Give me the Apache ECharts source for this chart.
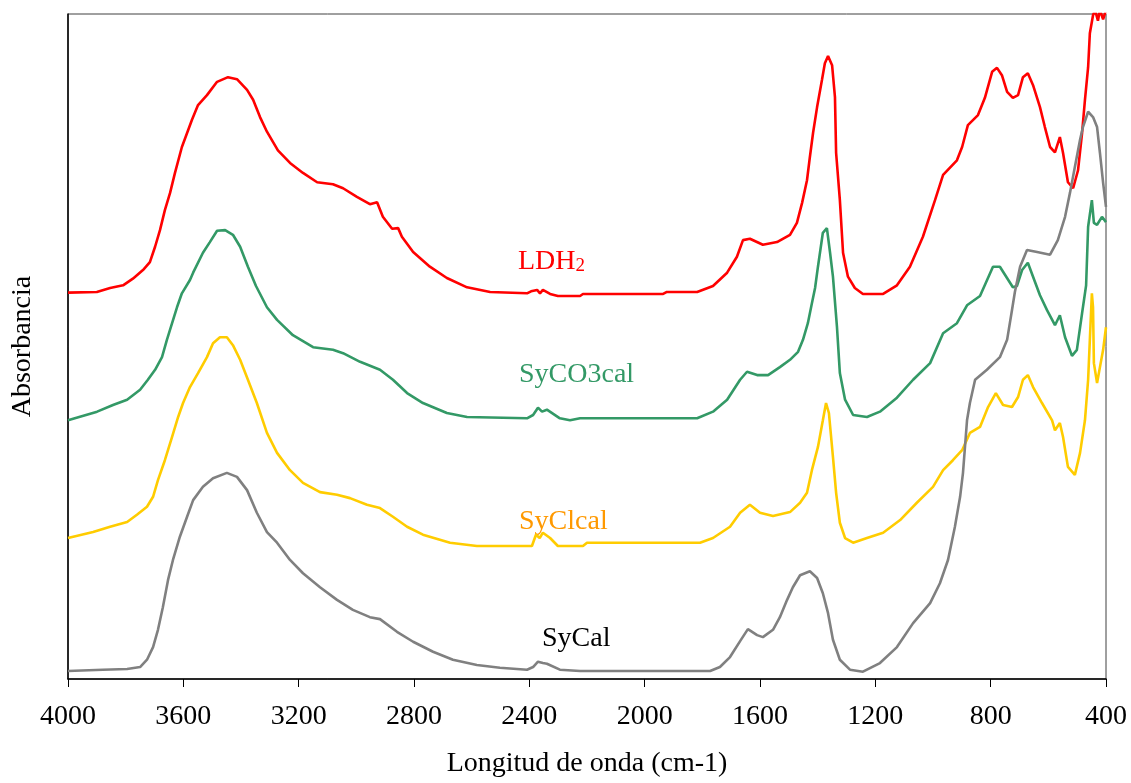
<!DOCTYPE html>
<html>
<head>
<meta charset="utf-8">
<script src="https://cdn.jsdelivr.net/npm/echarts@6/dist/echarts.min.js"></script>
<style>
html,body{margin:0;padding:0;background:#fff;}
#chart{width:1131px;height:783px;}
</style>
</head>
<body>
<div id="chart"></div>
<script>
// X tick labels (wavenumber, cm-1)
const xTicks = [4000, 3600, 3200, 2800, 2400, 2000, 1600, 1200, 800, 400];

// LDH2 (red)
const ldhWn  = [4000,3900,3854,3809,3775,3740,3716,3698,3681,3664,3646,3629,3605,3587,3570,3549,3518,3483,3445,3414,3379,3358,3334,3310,3272,3230,3185,3136,3081,3046,2998,2953,2928,2908,2876,2855,2842,2803,2745,2686,2616,2536,2408,2394,2373,2363,2353,2328,2301,2224,2214,1936,1923,1818,1763,1714,1680,1659,1635,1590,1541,1496,1472,1454,1437,1427,1416,1402,1385,1375,1364,1350,1340,1336,1323,1312,1295,1271,1243,1173,1125,1080,1035,993,965,917,899,879,844,820,795,778,761,743,723,705,688,671,653,629,612,594,577,560,549,532,514,497,483,473,462,456,445,438,428,421,410,400];
const ldhAbs = [58.1,58.2,58.8,59.2,60.2,61.5,62.7,65.0,67.5,70.5,73.1,76.1,80.0,82.1,84.1,86.3,87.8,89.8,90.5,90.2,88.6,87.1,84.5,82.3,79.5,77.6,76.1,74.7,74.4,73.8,72.5,71.4,71.7,69.5,67.7,67.8,66.5,64.2,62.0,60.3,58.9,58.2,58.0,58.3,58.5,58.0,58.5,57.9,57.6,57.6,57.9,57.9,58.2,58.2,59.1,61.1,63.5,66.0,66.2,65.3,65.7,66.8,68.6,71.6,75.0,78.5,82.1,86.0,90.1,92.6,93.7,92.3,87.5,79.1,72.0,64.1,60.5,58.8,57.9,57.9,59.2,62.0,66.5,72.0,75.8,78.0,80.0,83.3,84.8,87.4,91.3,91.9,90.8,88.3,87.4,87.8,90.5,91.1,89.3,86.0,83.0,80.0,79.2,81.5,79.1,74.7,73.8,76.5,82.1,87.1,92.0,97.1,99.8,100.6,99.0,100.6,99.2,100.6];

// SyCO3cal (green)
const co3Wn  = [4000,3899,3844,3795,3750,3723,3698,3674,3657,3639,3622,3605,3577,3566,3532,3508,3483,3455,3428,3403,3376,3348,3310,3275,3220,3150,3081,3046,2987,2918,2873,2824,2769,2686,2616,2408,2387,2370,2356,2339,2294,2259,2224,1818,1763,1714,1669,1645,1610,1572,1531,1496,1468,1451,1434,1420,1409,1399,1382,1368,1357,1347,1333,1323,1305,1277,1229,1184,1125,1069,1010,965,917,882,837,792,768,723,709,691,671,653,629,605,577,560,542,518,501,483,469,462,449,442,431,414,400];
const co3Abs = [38.9,40.2,41.2,42.0,43.5,45.0,46.5,48.4,51.0,53.5,55.9,58.0,60.0,61.1,64.1,65.7,67.4,67.5,66.8,65.0,62.0,59.1,55.9,54.0,51.7,49.9,49.5,49.0,47.7,46.5,45.0,43.0,41.5,40.0,39.4,39.2,39.7,40.8,40.2,40.5,39.2,38.9,39.2,39.2,40.2,42.0,45.0,46.2,45.7,45.7,46.9,48.0,49.2,51.0,53.5,56.5,58.8,62.0,67.1,67.8,64.1,60.5,52.9,46.0,42.0,39.7,39.4,40.2,42.3,45.0,47.5,52.0,53.5,56.2,57.6,62.0,62.0,58.9,59.1,61.5,62.6,60.5,57.7,55.5,53.2,54.7,51.4,48.6,49.5,55.0,59.2,68.0,72.0,68.6,68.3,69.5,68.7];

// SyClcal (yellow)
const clWn  = [4000,3913,3854,3795,3761,3726,3705,3688,3664,3639,3618,3601,3577,3549,3518,3497,3473,3449,3428,3403,3376,3345,3310,3275,3230,3185,3126,3067,3022,2963,2918,2873,2824,2769,2675,2582,2391,2377,2364,2353,2328,2301,2214,2200,1808,1763,1704,1669,1635,1600,1555,1496,1461,1437,1420,1399,1382,1371,1361,1347,1336,1323,1305,1277,1229,1173,1114,1056,1000,965,931,899,872,837,809,782,757,726,705,688,671,653,622,587,577,560,549,532,508,490,473,462,456,449,445,442,431,421,410,400];
const clAbs = [21.2,22.1,22.9,23.6,24.7,25.9,27.4,29.9,32.9,36.4,39.4,41.5,43.9,46.0,48.4,50.5,51.4,51.4,50.2,48.0,45.0,41.5,37.0,34.0,31.4,29.5,28.1,27.7,27.2,26.2,25.7,24.4,22.9,21.7,20.5,20.0,20.0,21.7,21.2,22.0,21.2,20.0,20.0,20.5,20.5,21.2,22.9,25.0,26.2,25.0,24.5,25.1,26.5,28.0,31.4,34.9,38.9,41.5,40.0,33.4,28.0,23.5,21.2,20.5,21.2,22.0,23.9,26.5,28.9,31.4,32.9,34.4,37.0,37.9,40.9,43.0,41.2,40.9,42.4,45.0,45.7,43.9,41.5,38.9,37.4,38.5,36.4,31.9,30.7,34.0,38.9,45.0,51.0,58.0,55.9,47.5,44.5,46.9,49.5,52.9];

// SyCal (grey)
const calWn  = [4000,3879,3795,3750,3726,3705,3688,3671,3653,3636,3612,3587,3566,3532,3497,3449,3414,3379,3345,3310,3275,3230,3185,3126,3067,3012,2953,2918,2859,2803,2734,2665,2582,2502,2408,2387,2370,2353,2339,2294,2224,1773,1739,1704,1669,1642,1610,1590,1555,1531,1506,1486,1461,1427,1402,1382,1364,1347,1323,1288,1243,1184,1125,1069,1010,976,948,924,906,896,882,872,854,813,768,743,726,716,698,674,639,594,567,542,525,508,490,480,462,445,431,421,410,400];
const calAbs = [1.2,1.4,1.5,1.8,2.9,4.8,7.4,10.8,14.9,17.9,21.4,24.4,26.9,28.9,30.2,31.0,30.4,28.4,25.0,22.1,20.5,17.9,15.9,13.8,11.9,10.4,9.3,9.0,7.1,5.6,4.1,2.9,2.1,1.7,1.4,1.8,2.6,2.4,2.3,1.4,1.2,1.2,1.8,3.3,5.7,7.5,6.6,6.3,7.4,9.3,11.9,13.8,15.6,16.2,15.2,12.9,9.9,5.9,2.9,1.4,1.1,2.4,4.8,8.4,11.4,14.4,17.9,22.9,27.4,31.0,38.9,41.5,45.0,46.5,48.4,51.0,55.5,58.2,62.0,64.5,64.2,63.8,66.0,69.5,73.1,77.0,81.1,83.0,85.3,84.5,83.0,79.1,74.6,71.0];

const seriesNames = ['LDH2', 'SyCO3cal', 'SyClcal', 'SyCal'];

function zip(a, b) { return a.map((v, i) => [v, b[i]]); }

const FONT = '"Liberation Serif", "Times New Roman", serif';
const chart = echarts.init(document.getElementById('chart'), null, {renderer: 'canvas'});

const mk = (name, wn, ab, color) => ({
  name, type: 'line', data: zip(wn, ab), showSymbol: false, symbol: 'none',
  lineStyle: {color, width: 2.6}, itemStyle: {color}, animation: false, clip: true,
  emphasis: {disabled: true}
});

chart.setOption({
  backgroundColor: '#fff',
  animation: false,
  grid: {left: 68, right: 25, top: 14, bottom: 104, show: true, borderColor: '#404040', borderWidth: 1},
  xAxis: {
    type: 'value', min: 400, max: 4000, interval: 400, inverse: true,
    name: 'Longitud de onda (cm-1)', nameLocation: 'middle', nameGap: 71,
    nameTextStyle: {fontFamily: FONT, fontSize: 28, color: '#000'},
    axisLine: {show: true, lineStyle: {color: '#000', width: 1.5}},
    axisTick: {show: true, inside: false, length: 8, lineStyle: {color: '#000', width: 1}},
    axisLabel: {fontFamily: FONT, fontSize: 28, color: '#000', margin: 24,
      formatter: v => (xTicks.indexOf(v) >= 0 ? String(v) : '')},
    splitLine: {show: false}
  },
  yAxis: {
    type: 'value', min: 0, max: 100,
    name: 'Absorbancia', nameLocation: 'middle', nameGap: 31, nameRotate: 90,
    nameTextStyle: {fontFamily: FONT, fontSize: 28, color: '#000'},
    axisLine: {show: true, lineStyle: {color: '#000', width: 1.5}},
    axisTick: {show: false}, axisLabel: {show: false}, splitLine: {show: false}
  },
  series: [
    mk(seriesNames[0], ldhWn, ldhAbs, '#FF0000'),
    mk(seriesNames[1], co3Wn, co3Abs, '#339966'),
    mk(seriesNames[2], clWn, clAbs, '#FFCC00'),
    mk(seriesNames[3], calWn, calAbs, '#808080')
  ],
  graphic: [
    {type: 'text', left: 518, top: 248, silent: true, style: {
      text: '{a|LDH}{b|2}', fill: '#FF0000',
      rich: {a: {fontFamily: FONT, fontSize: 28, fill: '#FF0000', verticalAlign: 'bottom'},
             b: {fontFamily: FONT, fontSize: 19, fill: '#FF0000', verticalAlign: 'bottom'}}}},
    {type: 'text', left: 519, top: 361, silent: true, style: {text: 'SyCO3cal', fill: '#339966', fontFamily: FONT, fontSize: 28}},
    {type: 'text', left: 519, top: 508, silent: true, style: {text: 'SyClcal', fill: '#FF9900', fontFamily: FONT, fontSize: 28}},
    {type: 'text', left: 542, top: 625, silent: true, style: {text: 'SyCal', fill: '#000000', fontFamily: FONT, fontSize: 28}}
  ]
});
</script>
</body>
</html>
